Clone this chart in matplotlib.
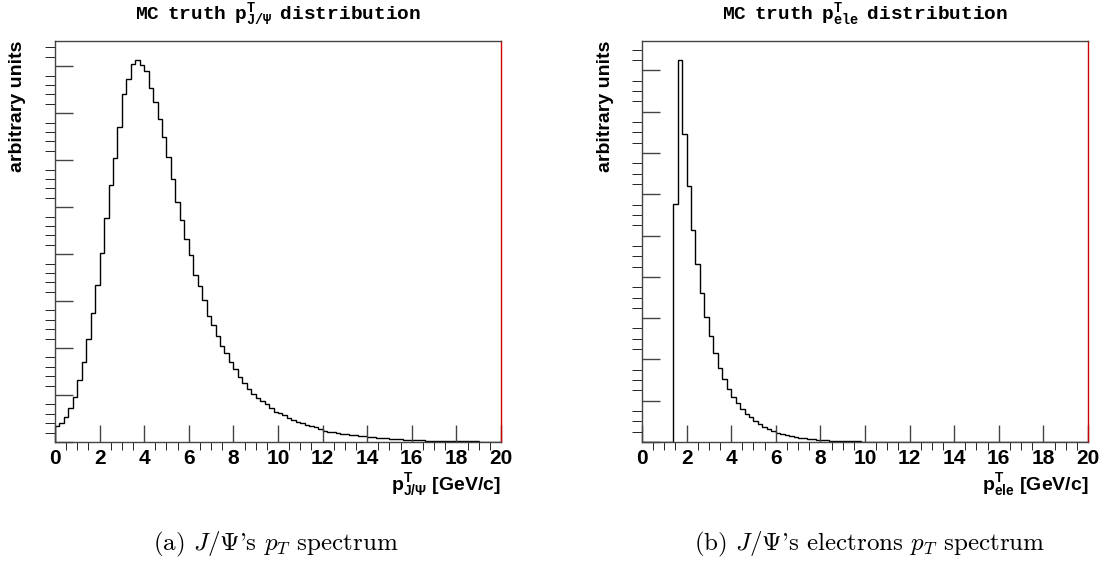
import numpy as np
import matplotlib
matplotlib.use('Agg')
from matplotlib import pyplot as plt
from matplotlib.ticker import MultipleLocator, NullFormatter

# 100 bins of 0.2 GeV/c between 0 and 20, values in arbitrary units
bin_edges = np.linspace(0, 20, 101)

jpsi_pt = [0.33, 0.41, 0.54, 0.73, 0.96, 1.32, 1.70, 2.20, 2.74, 3.35,
           4.03, 4.77, 5.47, 6.05, 6.71, 7.40, 7.73, 8.04, 8.13, 8.03,
           7.89, 7.53, 7.23, 6.87, 6.49, 6.06, 5.59, 5.10, 4.72, 4.33,
           3.99, 3.55, 3.32, 3.03, 2.68, 2.50, 2.25, 2.05, 1.89, 1.71,
           1.55, 1.38, 1.26, 1.13, 1.03, 0.94, 0.87, 0.80, 0.73, 0.64,
           0.61, 0.57, 0.52, 0.47, 0.43, 0.40, 0.37, 0.34, 0.31, 0.28,
           0.24, 0.22, 0.21, 0.19, 0.18, 0.16, 0.15, 0.14, 0.13, 0.12,
           0.11, 0.100, 0.092, 0.084, 0.076, 0.068, 0.062, 0.056, 0.050, 0.045,
           0.040, 0.036, 0.033, 0.030, 0.027, 0.024, 0.022, 0.020, 0.018, 0.016,
           0.015, 0.014, 0.013, 0.012, 0.011, 0.010, 0.009, 0.008, 0.008, 0.007]

ele_pt = [0, 0, 0, 0, 0, 0, 0, 5.77, 9.25, 7.45,
          6.21, 5.14, 4.32, 3.62, 3.03, 2.57, 2.16, 1.80, 1.53, 1.29,
          1.10, 0.95, 0.81, 0.69, 0.60, 0.51, 0.44, 0.37, 0.31, 0.27,
          0.23, 0.19, 0.16, 0.14, 0.12, 0.10, 0.09, 0.075, 0.063, 0.053,
          0.045, 0.038, 0.032, 0.027, 0.023, 0.020, 0.017, 0.015, 0.013, 0.011,
          0.010, 0.009, 0.008, 0.007, 0.006, 0.0055, 0.005, 0.0045, 0.004, 0.0035,
          0.003, 0.003, 0.0028, 0.0026, 0.0024, 0.0022, 0.002, 0.002, 0.0018, 0.0016,
          0.0015, 0.0014, 0.0013, 0.0012, 0.0011, 0.001, 0.001, 0.001, 0.0009, 0.0009,
          0.0008, 0.0008, 0.0007, 0.0007, 0.0006, 0.0006, 0.0005, 0.0005, 0.0005, 0.0004,
          0.0004, 0.0004, 0.0003, 0.0003, 0.0003, 0.0003, 0.0002, 0.0002, 0.0002, 0.0002]

x_ticks = [0, 2, 4, 6, 8, 10, 12, 14, 16, 18, 20]

titles = [r'$\mathtt{MC\enspace truth\enspace p^{T}_{J/Ψ}\enspace distribution}$',
          r'$\mathtt{MC\enspace truth\enspace p^{T}_{ele}\enspace distribution}$']
x_labels = [r'$\mathrm{p^{T}_{J/Ψ}\ [GeV/c]}$', r'$\mathrm{p^{T}_{ele}\ [GeV/c]}$']
captions = ["(a) $J/\\Psi$'s $p_T$ spectrum",
            "(b) $J/\\Psi$'s electrons $p_T$ spectrum"]

plt.rcParams['mathtext.fontset'] = 'custom'
plt.rcParams['mathtext.rm'] = 'Liberation Sans:bold'
plt.rcParams['mathtext.it'] = 'Liberation Sans:bold'
plt.rcParams['mathtext.bf'] = 'Liberation Sans:bold'
plt.rcParams['mathtext.sf'] = 'Liberation Sans:bold'
plt.rcParams['mathtext.tt'] = 'Liberation Mono:bold'

fig = plt.figure(figsize=(11.04, 5.65), dpi=100)
frame_col = '#444444'

panels = [(0.0498, jpsi_pt, 0.2, 18 / 1104, 276 / 1104),
          (0.5815, ele_pt, 0.25, 605 / 1104, 870 / 1104)]

for i, (left, vals, minor, ylab_x, cap_x) in enumerate(panels):
    ax = fig.add_axes([left, 0.2177, 0.404, 0.7097])
    ax.stairs(vals, bin_edges, color='black', linewidth=1.0, baseline=0)
    ax.set_xlim(0, 20)
    ax.set_ylim(0, 1.05 * max(vals))

    ax.set_xticks(x_ticks)
    ax.set_xticklabels([str(t) for t in x_ticks], fontfamily='Liberation Sans',
                       fontweight='bold', fontsize=15)
    ax.xaxis.set_minor_locator(MultipleLocator(0.5))
    ax.yaxis.set_major_locator(MultipleLocator(1))
    ax.yaxis.set_minor_locator(MultipleLocator(minor))
    ax.yaxis.set_major_formatter(NullFormatter())
    ax.tick_params(direction='in', color=frame_col, width=1.0)
    ax.tick_params(axis='x', which='major', length=12, pad=5)
    ax.tick_params(axis='x', which='minor', length=6)
    ax.tick_params(axis='y', which='major', length=13)
    ax.tick_params(axis='y', which='minor', length=7)

    for side in ['left', 'top', 'bottom']:
        ax.spines[side].set_color(frame_col)
        ax.spines[side].set_linewidth(1.0)
    ax.spines['right'].set_color('#cc0000')
    ax.spines['right'].set_linewidth(1.0)

    ax.text(1.0, -0.119, x_labels[i], transform=ax.transAxes, ha='right',
            va='baseline', fontsize=14)

    fig.text(ylab_x, 1 - 41 / 565, 'arbitrary units', rotation=90, ha='center',
             va='top', fontfamily='Liberation Sans', fontweight='bold', fontsize=14)
    fig.text(left + 0.202, 1 - 19 / 565, titles[i], ha='center', va='baseline',
             fontsize=14)
    fig.text(cap_x, 1 - 550 / 565, captions[i], ha='center', va='baseline',
             fontfamily='cmr10', math_fontfamily='cm', fontsize=18)

plt.savefig('out.png', dpi=100)
plt.close()
